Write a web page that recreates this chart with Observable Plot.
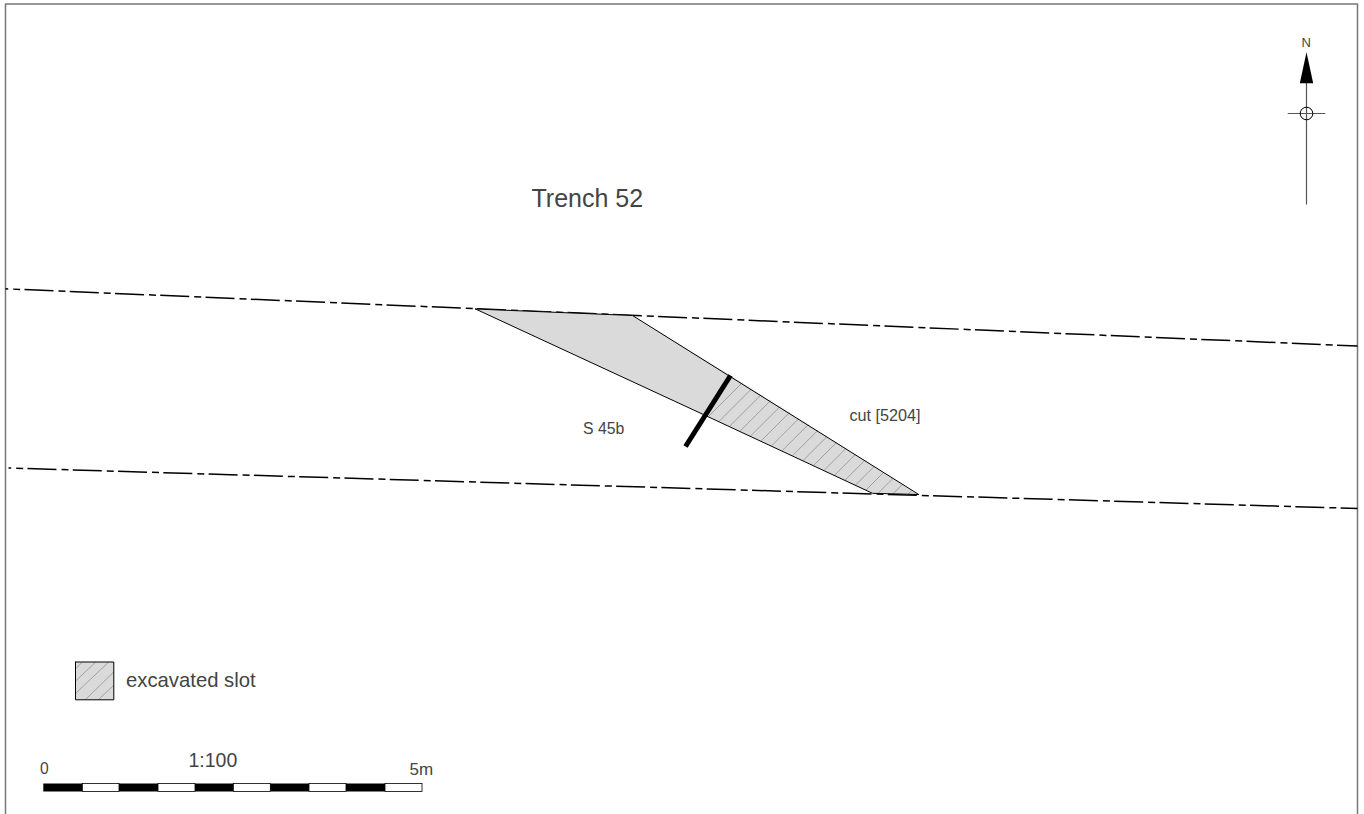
<!DOCTYPE html>
<html><head><meta charset="utf-8">
<script src="https://cdn.jsdelivr.net/npm/d3@7"></script>
<script src="https://cdn.jsdelivr.net/npm/@observablehq/plot@0.6"></script>
<style>html,body{margin:0;padding:0;background:#fff;overflow:hidden}svg{display:block}</style>
</head><body><div id="chart"></div>
<script>
// Plan coordinates
const frame = [[5,817],[5,3.5],[1357,3.5],[1357,817]];
const trenchTop = [[5,288.3],[1357,345.5]];
const trenchBottom = [[8,467.5],[1357,508]];
const cutOutline = [[475,308.5],[632,315],[918.3,494],[872,492.8],[705,415],[475,308.5]];
const cutUnexcavated = [[475,308.5],[632,315],[730,375],[705,415]];
const cutExcavated = [[730,375],[918.3,494],[872,492.8],[705,415]];
const sectionLine = [[730,375],[685,446]];
const hatchTop = [[741.6,382.4],[751.1,388.3],[760.5,394.3],[770,400.2],[779.4,406.2],[788.8,412.2],[798.2,418.2],[807.7,424.1],[817.1,430.1],[826.5,436.1],[835.9,442.1],[845.4,448],[854.8,454],[864.2,460],[873.7,465.9],[883.1,471.9],[892.5,477.9],[901.9,483.9],[911.4,489.8]];
const hatchBottom = [[708.4,415.6],[718.9,420.5],[729.4,425.4],[739.9,430.3],[750.3,435.3],[760.8,440.2],[771.3,445.1],[781.7,450.1],[792.2,455],[802.7,459.9],[813.1,464.9],[823.6,469.8],[834.1,474.7],[844.6,479.6],[855,484.6],[865.5,489.5],[877.4,493],[892.6,493.2],[907.7,493.5]];
const legendBox = [[75,661.5],[113.3,661.5],[113.3,699.3],[75,699.3]];
const legendHatch = [[[75,668.3],[81.7,661.7]],[[75,680.7],[95,661.7]],[[75,693],[108,661.7]],[[85,699],[113,671.7]],[[98,699],[113,685]]];
const scaleBlack = [[43.3,82.3],[119,158],[195,233.3],[270.3,309],[346,385]];
const scaleWhite = [[82.3,119],[158,195],[233.3,270.3],[309,346],[385,422]];
const scaleY = [783.5,791.5];
const northArrow = [[1306,51.7],[1299.3,82.7],[1312.7,82.7]];
const northStem = [[1306,82],[1306,203.5]];
const northCross = [[1287.7,113],[1324.3,113]];
const northCircle = [[1306,113]];
const labels = [
  {x:531,y:198,t:"Trench 52",s:25},
  {x:582.5,y:428,t:"S 45b",s:15.8},
  {x:849,y:415,t:"cut [5204]",s:16.2},
  {x:125.5,y:680,t:"excavated slot",s:20.3},
  {x:188,y:760.5,t:"1:100",s:19.5},
  {x:39.5,y:768,t:"0",s:15.6},
  {x:409,y:769,t:"5m",s:17},
  {x:1301,y:42,t:"N",s:13}
];
const line = (pts,o={}) => Plot.line(pts,{x:d=>d[0],y:d=>d[1],stroke:"#000",strokeWidth:1,...o});
const fillPoly = (pts,fill) => Plot.line([...pts,pts[0]],{x:d=>d[0],y:d=>d[1],fill,stroke:"none"});
const dash = {strokeDasharray:"29,5,7,4.3",strokeDashoffset:26.3,strokeWidth:1.5,strokeLinecap:"butt"};
const plot = Plot.plot({
  width:1364,height:814,margin:0,
  x:{domain:[0,1364],axis:null},
  y:{domain:[814,0],axis:null},
  style:{background:"#fff",fontFamily:"'Liberation Sans', sans-serif"},
  marks:[
    line(frame,{stroke:"#777",strokeWidth:1.5}),
    line(trenchTop,dash),
    line(trenchBottom,dash),
    fillPoly(cutUnexcavated,"#dadada"),
    fillPoly(cutExcavated,"#dadada"),
    Plot.link(hatchTop.map((d,i)=>[d,hatchBottom[i]]),{x1:d=>d[0][0],y1:d=>d[0][1],x2:d=>d[1][0],y2:d=>d[1][1],stroke:"#999",strokeWidth:0.9}),
    line(cutOutline,{strokeWidth:1}),
    line(sectionLine,{strokeWidth:5,strokeLinecap:"butt"}),
    fillPoly(legendBox,"#dadada"),
    Plot.link(legendHatch,{x1:d=>d[0][0],y1:d=>d[0][1],x2:d=>d[1][0],y2:d=>d[1][1],stroke:"#999",strokeWidth:0.9}),
    line([...legendBox,legendBox[0]],{strokeWidth:1}),
    Plot.rect(scaleWhite,{x1:d=>d[0],x2:d=>d[1],y1:()=>scaleY[0],y2:()=>scaleY[1],fill:"#fff",stroke:"#000",strokeWidth:0.8}),
    Plot.rect(scaleBlack,{x1:d=>d[0],x2:d=>d[1],y1:()=>scaleY[0],y2:()=>scaleY[1],fill:"#000"}),
    line(northStem,{stroke:"#555",strokeWidth:1.2}),
    line(northCross,{stroke:"#555",strokeWidth:1.2}),
    Plot.dot(northCircle,{x:d=>d[0],y:d=>d[1],r:6.3,stroke:"#000",strokeWidth:1,fill:"none"}),
    fillPoly(northArrow,"#000"),
    Plot.text(labels,{x:"x",y:"y",text:"t",fontSize:d=>d.s,textAnchor:"start",fill:"#444"})
  ]
});
document.getElementById("chart").append(plot);
</script></body></html>
